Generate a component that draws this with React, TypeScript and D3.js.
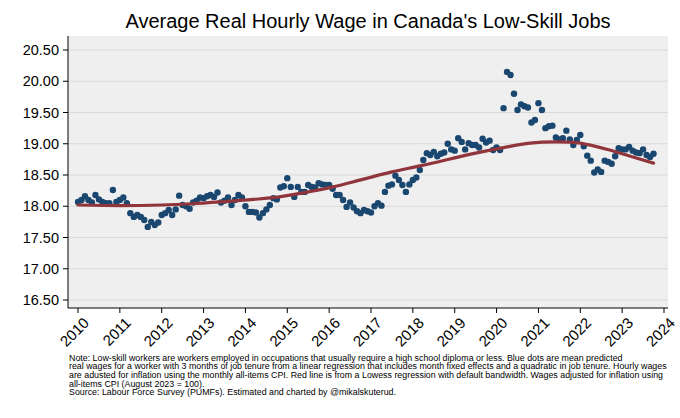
import React from "react";
import * as d3 from "d3";

// Monthly mean predicted real hourly wage (Jan of each year onward)
const wage2010 = [18.07, 18.1, 18.16, 18.1, 18.06, 18.18, 18.11, 18.07, 18.05, 18.05, 18.26, 18.07];
const wage2011 = [18.1, 18.14, 18.05, 17.89, 17.83, 17.86, 17.83, 17.78, 17.67, 17.75, 17.7, 17.74];
const wage2012 = [17.86, 17.89, 17.94, 17.86, 17.95, 18.17, 18.02, 18.0, 17.96, 18.06, 18.09, 18.14];
const wage2013 = [18.13, 18.16, 18.18, 18.15, 18.22, 18.06, 18.09, 18.14, 18.02, 18.1, 18.18, 18.14];
const wage2014 = [18.0, 17.91, 17.91, 17.9, 17.82, 17.89, 17.95, 18.02, 18.13, 18.11, 18.3, 18.32];
const wage2015 = [18.45, 18.31, 18.15, 18.31, 18.23, 18.23, 18.34, 18.31, 18.3, 18.37, 18.35, 18.34];
const wage2016 = [18.34, 18.28, 18.18, 18.18, 18.1, 17.99, 18.06, 17.98, 17.92, 17.89, 17.94, 17.92];
const wage2017 = [17.9, 18.0, 18.05, 18.01, 18.23, 18.33, 18.35, 18.49, 18.42, 18.34, 18.23, 18.35];
const wage2018 = [18.42, 18.46, 18.58, 18.74, 18.85, 18.82, 18.87, 18.8, 18.84, 18.86, 19.0, 18.91];
const wage2019 = [18.89, 19.09, 19.03, 18.91, 19.01, 18.98, 18.98, 18.94, 19.08, 19.02, 19.05, 18.9];
const wage2020 = [18.94, 18.9, 19.57, 20.15, 20.1, 19.8, 19.54, 19.63, 19.6, 19.58, 19.34, 19.38];
const wage2021 = [19.65, 19.54, 19.25, 19.28, 19.29, 19.1, 19.07, 19.09, 19.21, 19.07, 18.98, 19.06];
const wage2022 = [19.14, 18.96, 18.81, 18.73, 18.54, 18.59, 18.55, 18.73, 18.71, 18.68, 18.8, 18.93];
const wage2023 = [18.91, 18.91, 18.95, 18.89, 18.86, 18.85, 18.91, 18.82, 18.79, 18.84];

const wageYears = [
  [2010, wage2010], [2011, wage2011], [2012, wage2012], [2013, wage2013], [2014, wage2014],
  [2015, wage2015], [2016, wage2016], [2017, wage2017], [2018, wage2018], [2019, wage2019],
  [2020, wage2020], [2021, wage2021], [2022, wage2022], [2023, wage2023],
] as [number, number[]][];

// Lowess fit (red line)
const lowessTime = [2010.0, 2011.0, 2012.0, 2012.7, 2013.4, 2014.2, 2014.8, 2015.5, 2016.1, 2016.8, 2017.5, 2018.2, 2019.5, 2020.1, 2020.8, 2021.4, 2022.0, 2022.8, 2023.2, 2023.75];
const lowessValue = [18.02, 18.01, 18.02, 18.04, 18.07, 18.11, 18.15, 18.23, 18.31, 18.43, 18.55, 18.65, 18.85, 18.93, 19.01, 19.03, 19.01, 18.88, 18.8, 18.69];

const yTicks = [16.5, 17.0, 17.5, 18.0, 18.5, 19.0, 19.5, 20.0, 20.5];
const xTicks = [2010, 2011, 2012, 2013, 2014, 2015, 2016, 2017, 2018, 2019, 2020, 2021, 2022, 2023, 2024];

const title = "Average Real Hourly Wage in Canada's Low-Skill Jobs";
const noteLines = [
  "Note: Low-skill workers are workers employed in occupations that usually require a high school diploma or less. Blue dots are mean predicted",
  "real wages for a worker with 3 months of job tenure from a linear regression that includes month fixed effects and a quadratic in job tenure. Hourly wages",
  "are adusted for inflation using the monthly all-items CPI. Red line is from a Lowess regression with default bandwidth. Wages adjusted for inflation using",
  "all-items CPI (August 2023 = 100).",
  "Source: Labour Force Survey (PUMFs). Estimated and charted by @mikalskuterud.",
];

const W = 680;
const H = 418;
const plotLeft = 68;
const plotRight = 668;
const plotTop = 36;
const plotBottom = 308;

export default function App() {
  const x = d3.scaleLinear().domain([2010, 2024]).range([78, 664]);
  const y = d3.scaleLinear().domain([16.5, 20.5]).range([300, 50]);

  const points: { t: number; v: number }[] = [];
  wageYears.forEach(([yr, arr]) => arr.forEach((v, m) => points.push({ t: yr + m / 12, v })));

  const lowessData = lowessTime.map((t, i) => ({ t, v: lowessValue[i] }));
  const line = d3
    .line<{ t: number; v: number }>()
    .x((d) => x(d.t))
    .y((d) => y(d.v))
    .curve(d3.curveCatmullRom.alpha(0.5));

  const font = "'Liberation Sans', Arial, Helvetica, sans-serif";

  return (
    <svg width={W} height={H} style={{ position: "absolute", left: 0, top: 0, background: "#fff" }} fontFamily={font}>
      <rect x={0} y={0} width={W} height={H} fill="#ffffff" />
      <text x={(plotLeft + plotRight) / 2} y={28} textAnchor="middle" fontSize={20} fill="#000">
        {title}
      </text>
      <rect x={plotLeft} y={plotTop} width={plotRight - plotLeft} height={plotBottom - plotTop} fill="#efefef" />
      {yTicks.map((t) => (
        <g key={t}>
          <line x1={plotLeft} x2={plotRight} y1={y(t)} y2={y(t)} stroke="#d9d9d9" strokeWidth={1} />
          <line x1={plotLeft - 5} x2={plotLeft} y1={y(t)} y2={y(t)} stroke="#000" strokeWidth={1} />
          <text x={plotLeft - 9} y={y(t)} dy="0.36em" textAnchor="end" fontSize={14.5} fill="#000">
            {d3.format(".2f")(t)}
          </text>
        </g>
      ))}
      <line x1={plotLeft} x2={plotLeft} y1={plotTop} y2={plotBottom} stroke="#000" strokeWidth={1} />
      <line x1={plotLeft} x2={plotRight} y1={plotBottom} y2={plotBottom} stroke="#000" strokeWidth={1} />
      {xTicks.map((t) => (
        <g key={t}>
          <line x1={x(t)} x2={x(t)} y1={plotBottom} y2={plotBottom + 5} stroke="#000" strokeWidth={1} />
          <text
            transform={`translate(${x(t) + 4},${plotBottom + 8}) rotate(-45)`}
            textAnchor="end"
            dy="0.75em"
            fontSize={15}
            fill="#000"
          >
            {t}
          </text>
        </g>
      ))}
      {points.map((p, i) => (
        <circle key={i} cx={x(p.t)} cy={y(p.v)} r={3.2} fill="#1a476f" />
      ))}
      <path d={line(lowessData) || ""} fill="none" stroke="#90353b" strokeWidth={3.2} strokeLinecap="round" />
      {noteLines.map((s, i) => (
        <text key={i} x={69} y={360.5 + i * 8.7} fontSize={8.85} fill="#000">
          {s}
        </text>
      ))}
    </svg>
  );
}
